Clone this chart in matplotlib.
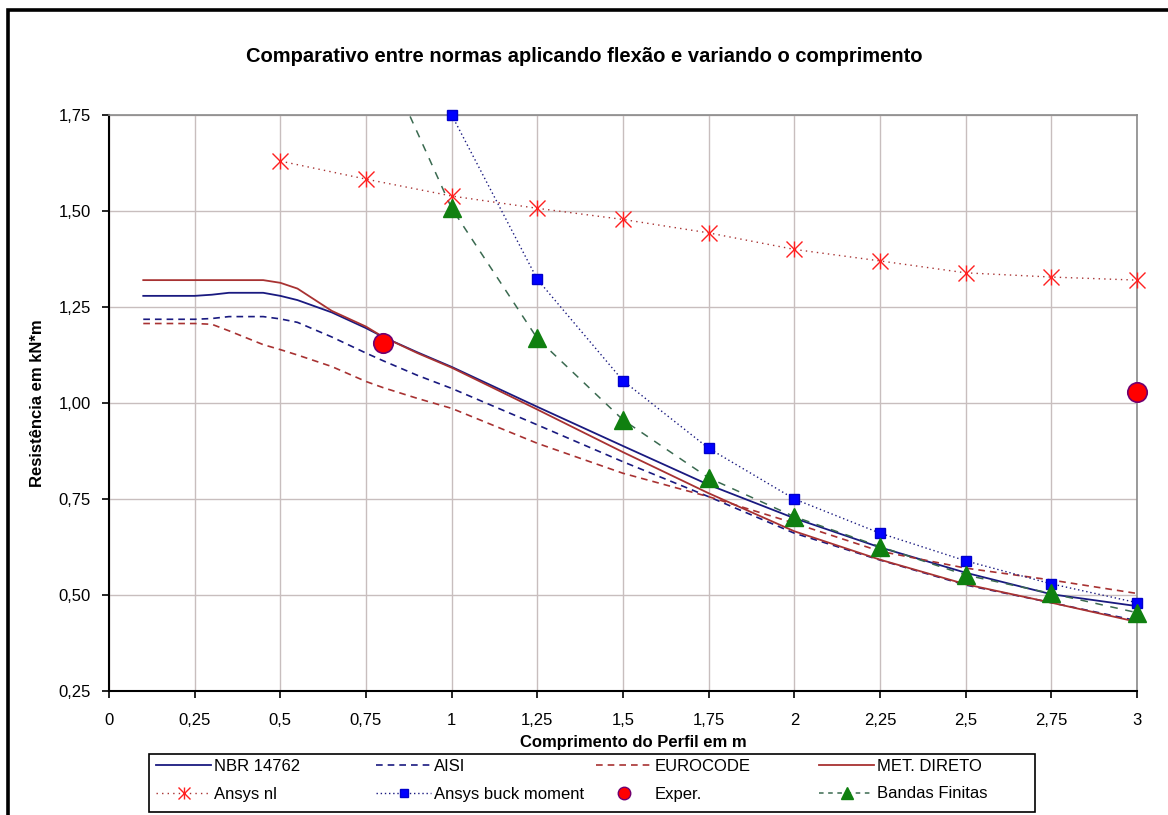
import numpy as np
import matplotlib
matplotlib.use("Agg")
import matplotlib.pyplot as plt
from matplotlib.lines import Line2D
from matplotlib.patches import Rectangle
from matplotlib.legend_handler import HandlerTuple
from matplotlib.ticker import FixedLocator, FuncFormatter

plt.rcParams["font.family"] = ["Liberation Sans", "DejaVu Sans"]

# Design curves (length in m, resistance in kN*m)
x_curve = [0.1, 0.25, 0.3, 0.35, 0.45, 0.5, 0.55, 0.65, 0.75, 0.8, 0.9, 1.0,
           1.25, 1.5, 1.75, 2.0, 2.25, 2.5, 2.75, 3.0]
nbr_14762 = [1.279, 1.279, 1.282, 1.287, 1.287, 1.279, 1.268, 1.236, 1.195, 1.172,
             1.132, 1.094, 0.990, 0.888, 0.787, 0.700, 0.624, 0.558, 0.502, 0.471]
aisi = [1.218, 1.218, 1.220, 1.225, 1.225, 1.219, 1.210, 1.172, 1.130, 1.110,
        1.072, 1.038, 0.943, 0.847, 0.756, 0.661, 0.591, 0.526, 0.480, 0.433]
eurocode = [1.207, 1.207, 1.205, 1.188, 1.152, 1.139, 1.125, 1.095, 1.056, 1.040,
            1.012, 0.986, 0.895, 0.817, 0.756, 0.687, 0.614, 0.570, 0.539, 0.504]
met_direto = [1.320, 1.320, 1.320, 1.320, 1.320, 1.313, 1.298, 1.240, 1.199, 1.172,
              1.130, 1.092, 0.983, 0.872, 0.765, 0.666, 0.592, 0.528, 0.480, 0.430]

# Numerical results
x_ansys_nl = [0.5, 0.75, 1.0, 1.25, 1.5, 1.75, 2.0, 2.25, 2.5, 2.75, 3.0]
ansys_nl = [1.630, 1.583, 1.539, 1.507, 1.478, 1.443, 1.400, 1.370, 1.339, 1.328, 1.320]

x_buck = [1.0, 1.25, 1.5, 1.75, 2.0, 2.25, 2.5, 2.75, 3.0]
ansys_buck = [1.750, 1.322, 1.058, 0.882, 0.750, 0.661, 0.589, 0.529, 0.480]

x_exper = [0.8, 3.0]
exper = [1.157, 1.029]

x_bandas = [0.75, 1.0, 1.25, 1.5, 1.75, 2.0, 2.25, 2.5, 2.75, 3.0]
bandas_finitas = [2.00, 1.507, 1.168, 0.956, 0.805, 0.704, 0.626, 0.552, 0.504, 0.454]

x_ticks = [0, 0.25, 0.5, 0.75, 1, 1.25, 1.5, 1.75, 2, 2.25, 2.5, 2.75, 3]
y_ticks = [0.25, 0.5, 0.75, 1.0, 1.25, 1.5, 1.75]

title = "Comparativo entre normas aplicando flexão e variando o comprimento"
x_label = "Comprimento do Perfil em m"
y_label = "Resistência em kN*m"

W, H = 1168, 815
fig = plt.figure(figsize=(W / 100, H / 100), dpi=100)
fig.patch.set_facecolor("white")

def fx(px):
    return px / W

def fy(py):
    return 1 - py / H

ax = fig.add_axes([fx(109), fy(691), fx(1137 - 109), (691 - 115) / H])
ax.set_xlim(0, 3)
ax.set_ylim(0.25, 1.75)

c_navy = "#1a1a80"
c_red = "#a83232"
c_green_line = "#3a6a50"

ax.plot(x_curve, nbr_14762, color=c_navy, lw=1.3, zorder=3)
ax.plot(x_curve, aisi, color=c_navy, lw=1.2, ls=(0, (4, 3)), zorder=3)
ax.plot(x_curve, eurocode, color=c_red, lw=1.2, ls=(0, (4, 3)), zorder=3)
ax.plot(x_curve, met_direto, color=c_red, lw=1.3, zorder=3)

# Ansys nl: dotted line with asterisk markers (x + vertical bar)
ax.plot(x_ansys_nl, ansys_nl, color=c_red, lw=1.0, ls=(0, (1, 3)), zorder=3)
ax.plot(x_ansys_nl, ansys_nl, ls="none", marker="x", ms=12, mew=1.0,
        color="#ff2020", zorder=4, clip_on=False)
ax.plot(x_ansys_nl, ansys_nl, ls="none", marker="|", ms=12, mew=1.0,
        color="#ff2020", zorder=4, clip_on=False)

# Ansys buckling moment
ax.plot(x_buck, ansys_buck, color=c_navy, lw=1.0, ls=(0, (1, 2)), zorder=3)
ax.plot(x_buck, ansys_buck, ls="none", marker="s", ms=7, mfc="#0000ff",
        mec="#0000cc", zorder=5, clip_on=False)

# Finite strip results (line clipped, visible markers only)
ax.plot(x_bandas, bandas_finitas, color=c_green_line, lw=1.1, ls=(0, (5, 5)), zorder=3)
b_vals = np.array(bandas_finitas)
b_vis = np.where(b_vals <= 1.75, b_vals, np.nan)
ax.plot(x_bandas, b_vis, ls="none", marker="^", ms=13, mfc="#108010",
        mec="#108010", zorder=5, clip_on=False)

# Experimental
ax.plot(x_exper, exper, ls="none", marker="o", ms=14, mfc="#ff0000",
        mec="#700070", mew=1.2, zorder=6, clip_on=False)

# Axes styling
ax.xaxis.set_major_locator(FixedLocator(x_ticks))
ax.yaxis.set_major_locator(FixedLocator(y_ticks))

def comma_fmt(v, pos):
    s = ("%.2f" % v).rstrip("0").rstrip(".")
    return s.replace(".", ",")

ax.xaxis.set_major_formatter(FuncFormatter(comma_fmt))
ax.yaxis.set_major_formatter(FuncFormatter(lambda v, p: ("%.2f" % v).replace(".", ",")))
ax.tick_params(axis="both", direction="out", length=5, width=1.2, color="black",
               labelsize=12)
ax.tick_params(axis="x", pad=11)
ax.tick_params(axis="y", pad=8)
ax.grid(True, color="#c8bebe", lw=1.0, zorder=0)
ax.set_axisbelow(True)
for side in ("top", "right"):
    ax.spines[side].set_color("#8a8a8a")
    ax.spines[side].set_linewidth(1.2)
for side in ("left", "bottom"):
    ax.spines[side].set_color("black")
    ax.spines[side].set_linewidth(1.5)

fig.text(fx(584), fy(56), title, ha="center", va="center", fontsize=14.5,
         fontweight="bold")
fig.text(fx(633), fy(742), x_label, ha="center", va="center", fontsize=12,
         fontweight="bold")
fig.text(fx(38), fy(403), y_label, ha="center", va="center", fontsize=12,
         fontweight="bold", rotation=90)

# Outer chart frame (top and left edges visible)
fig.add_artist(Rectangle((fx(8), -0.2), 1.5, fy(10) + 0.2, transform=fig.transFigure,
                         fill=False, ec="black", lw=2.6))

# Legend frame
fig.add_artist(Rectangle((fx(149), fy(812)), fx(1035 - 149), (812 - 754) / H,
                         transform=fig.transFigure, fill=False, ec="black", lw=1.2))

h_nbr = Line2D([], [], color=c_navy, lw=1.3)
h_aisi = Line2D([], [], color=c_navy, lw=1.2, ls=(0, (4, 3)))
h_euro = Line2D([], [], color=c_red, lw=1.2, ls=(0, (4, 3)))
h_met = Line2D([], [], color=c_red, lw=1.3)
h_nl = (Line2D([], [], color=c_red, lw=1.0, ls=(0, (1, 3)), marker="x", ms=8,
               mec="#ff2020", mew=1.0),
        Line2D([], [], ls="none", marker="|", ms=8, mec="#ff2020", mew=1.0))
h_buck = Line2D([], [], color=c_navy, lw=1.0, ls=(0, (1, 2)), marker="s", ms=6,
                mfc="#0000ff", mec="#0000cc")
h_exp = Line2D([], [], ls="none", marker="o", ms=9, mfc="#ff0000", mec="#700070")
h_band = Line2D([], [], color=c_green_line, lw=1.1, ls=(0, (3, 3)), marker="^", ms=9,
                mfc="#108010", mec="#108010")

columns = [
    (156, [h_nbr, h_nl], ["NBR 14762", "Ansys nl"]),
    (376, [h_aisi, h_buck], ["AISI", "Ansys buck moment"]),
    (596, [h_euro, h_exp], ["EUROCODE", "Exper."]),
    (819, [h_met, h_band], ["MET. DIRETO", "Bandas Finitas"]),
]
for xpx, hs, ls_ in columns:
    fig.legend(hs, ls_, loc="upper left", bbox_to_anchor=(fx(xpx), fy(759)),
               frameon=False, borderpad=0, borderaxespad=0, handlelength=3.3,
               handletextpad=0.2, labelspacing=0.75, fontsize=12, numpoints=1,
               handler_map={tuple: HandlerTuple(ndivide=1)})

fig.savefig("out.png", dpi=100, facecolor="white")
